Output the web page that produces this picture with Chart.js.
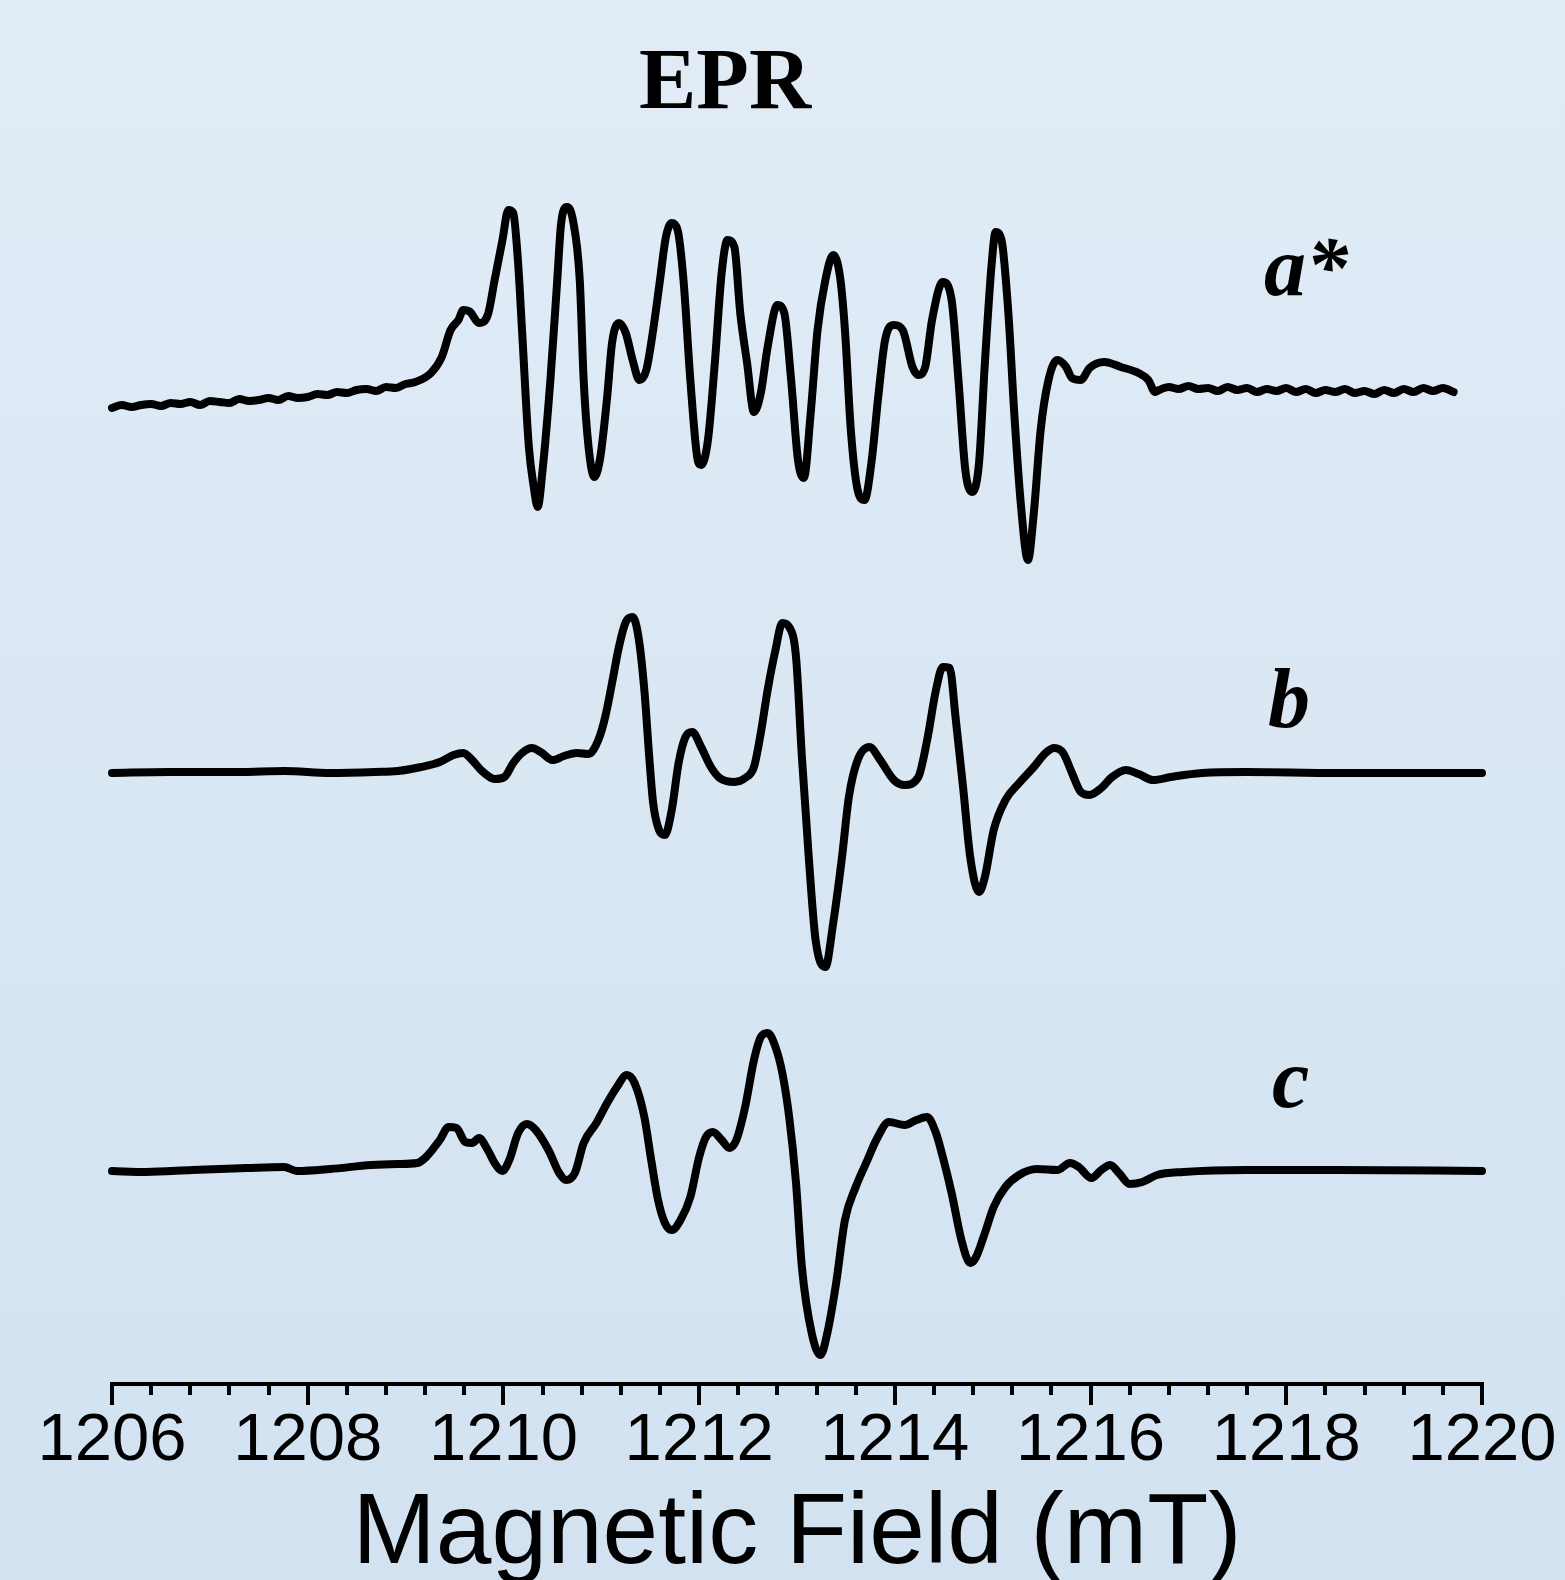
<!DOCTYPE html>
<html><head><meta charset="utf-8">
<script src="https://cdn.jsdelivr.net/npm/chart.js@4.4.0/dist/chart.umd.min.js"></script>
<style>html,body{margin:0;padding:0;background:#dae7f3;}canvas{display:block;}</style>
</head><body>
<canvas id="c" width="1565" height="1580"></canvas>
<script>
// ---- data (field in mT, signal in arbitrary units relative to each trace's baseline) ----
const fieldA = [1206.0,1206.1,1206.2,1206.3,1206.4,1206.5,1206.6,1206.7,1206.8,1206.9,1207.0,1207.1,1207.2,1207.3,1207.4,1207.5,1207.6,1207.7,1207.8,1207.9,1208.0,1208.1,1208.2,1208.3,1208.4,1208.5,1208.6,1208.7,1208.8,1208.9,1209.0,1209.1,
1209.26,1209.37,1209.46,1209.54,1209.59,1209.66,1209.75,1209.84,1209.91,1209.99,1210.05,1210.10,1210.15,1210.19,1210.26,1210.31,1210.35,1210.40,1210.48,1210.55,1210.59,1210.65,1210.71,1210.78,1210.82,1210.87,1210.93,1210.99,1211.06,1211.11,1211.18,1211.25,1211.32,1211.39,1211.46,1211.53,1211.60,1211.66,1211.72,1211.78,1211.84,1211.91,1211.98,1212.02,1212.09,1212.16,1212.23,1212.29,1212.36,1212.42,1212.49,1212.56,1212.63,1212.70,1212.80,1212.87,1212.94,1213.01,1213.07,1213.14,1213.21,1213.29,1213.37,1213.44,1213.49,1213.55,1213.62,1213.69,1213.76,1213.83,1213.90,1213.99,1214.08,1214.18,1214.24,1214.31,1214.38,1214.49,1214.58,1214.65,1214.72,1214.79,1214.86,1214.92,1214.99,1215.03,1215.09,1215.16,1215.22,1215.29,1215.36,1215.42,1215.49,1215.57,1215.66,1215.75,1215.81,1215.90,1215.99,1216.14,1216.31,1216.49,1216.59,1216.66,
1216.7,1216.8,1216.9,1217.0,1217.1,1217.2,1217.3,1217.4,1217.5,1217.6,1217.7,1217.8,1217.9,1218.0,1218.1,1218.2,1218.3,1218.4,1218.5,1218.6,1218.7,1218.8,1218.9,1219.0,1219.1,1219.2,1219.3,1219.4,1219.5,1219.6,1219.71];
const signalA = [-18,-15,-17,-15,-14,-16,-13,-14,-12,-15,-11,-12,-13,-9,-11,-10,-8,-10,-6,-8,-7,-4,-5,-2,-3,0,1,-1,3,2,6,8,
17,33,60,70,80,78,67,75,110,150,180,177,127,60,-57,-97,-117,-80,10,110,167,183,170,110,10,-57,-87,-67,-7,47,67,57,30,10,20,60,110,153,167,160,110,10,-67,-75,-50,27,117,150,143,77,27,-22,-3,43,85,77,10,-70,-88,-23,60,110,135,113,60,-40,-100,-110,-73,-7,50,65,60,23,15,23,70,108,90,10,-80,-102,-73,27,127,158,150,77,-23,-117,-170,-123,-40,10,30,23,12,10,22,28,23,17,10,-2,
0,3,1,4,1,2,-1,3,0,2,-2,1,-1,2,-2,1,-3,0,-2,1,-3,-1,-4,0,-3,1,-2,2,-1,2,-2];

const fieldB = [1206.00,1206.58,1207.29,1207.76,1208.23,1208.69,1208.92,1209.16,1209.35,1209.49,1209.59,1209.68,1209.77,1209.91,1210.01,1210.10,1210.19,1210.29,1210.38,1210.50,1210.62,1210.75,1210.87,1210.97,1211.04,1211.11,1211.18,1211.25,1211.32,1211.38,1211.44,1211.49,1211.53,1211.59,1211.65,1211.72,1211.79,1211.86,1211.93,1212.02,1212.12,1212.21,1212.36,1212.47,1212.56,1212.63,1212.70,1212.78,1212.85,1212.92,1212.99,1213.05,1213.12,1213.19,1213.29,1213.37,1213.46,1213.53,1213.62,1213.74,1213.85,1213.99,1214.10,1214.24,1214.33,1214.42,1214.49,1214.56,1214.62,1214.70,1214.77,1214.86,1214.92,1215.01,1215.13,1215.27,1215.42,1215.54,1215.63,1215.72,1215.81,1215.90,1215.99,1216.11,1216.22,1216.36,1216.49,1216.64,1216.82,1217.14,1217.59,1218.51,1219.19,1220.00];
const signalB = [-1,0,0,1,-1,0,1,5,10,17,19,12,2,-7,-5,9,19,24,20,12,16,19,18,32,55,89,125,150,155,135,82,15,-31,-58,-63,-38,9,35,40,25,5,-6,-10,-6,5,39,82,122,149,145,115,15,-85,-168,-195,-151,-85,-25,12,25,12,-8,-13,-5,32,82,105,104,55,-18,-85,-120,-105,-58,-28,-11,5,19,24,19,-1,-20,-23,-16,-5,2,-2,-8,-5,-1,0,-1,-1,-1];

const fieldC = [1206.00,1206.35,1206.82,1207.38,1207.76,1207.89,1208.23,1208.65,1208.92,1209.12,1209.21,1209.35,1209.44,1209.52,1209.61,1209.68,1209.75,1209.84,1209.91,1209.99,1210.06,1210.15,1210.24,1210.33,1210.46,1210.57,1210.64,1210.73,1210.82,1210.95,1211.06,1211.16,1211.26,1211.34,1211.44,1211.51,1211.58,1211.65,1211.72,1211.81,1211.91,1212.00,1212.07,1212.14,1212.23,1212.31,1212.38,1212.47,1212.56,1212.63,1212.70,1212.78,1212.85,1212.92,1212.99,1213.05,1213.15,1213.24,1213.31,1213.40,1213.49,1213.60,1213.72,1213.81,1213.94,1214.10,1214.22,1214.33,1214.42,1214.49,1214.58,1214.68,1214.77,1214.83,1214.92,1215.01,1215.13,1215.27,1215.45,1215.66,1215.79,1215.88,1216.01,1216.11,1216.20,1216.29,1216.40,1216.53,1216.68,1216.95,1217.59,1218.51,1220.00];
const signalC = [-1,-2,0,2,3,-1,1,5,6,7,13,30,43,42,28,27,32,20,7,-1,10,37,46,40,20,-3,-10,-3,27,47,67,83,95,87,53,10,-30,-53,-60,-50,-27,13,33,38,30,22,30,63,110,133,137,123,97,53,-13,-97,-163,-185,-163,-113,-50,-17,10,30,48,45,50,53,37,13,-23,-70,-93,-87,-63,-37,-17,-5,1,0,7,3,-8,0,5,-3,-14,-12,-5,-2,0,0,-1];

const traceNames = ['a*', 'b', 'c'];
const traceOffsets = [994, 612, 214];
const xMin = 1206, xMax = 1220, majorStep = 2, minorStep = 0.4;
const chartTitle = 'EPR';
const axisTitle = 'Magnetic Field (mT)';

function toPoints(fields, signals, offset) {
  return fields.map((f, i) => ({ x: f, y: signals[i] + offset }));
}

const bgPlugin = {
  id: 'bg',
  beforeDraw(chart) {
    const ctx = chart.ctx;
    const g = ctx.createLinearGradient(0, 0, 0, chart.height);
    g.addColorStop(0, 'rgb(225,236,246)');
    g.addColorStop(1, 'rgb(210,226,241)');
    ctx.save();
    ctx.fillStyle = g;
    ctx.fillRect(0, 0, chart.width, chart.height);
    ctx.restore();
  }
};

const decoPlugin = {
  id: 'deco',
  afterDraw(chart) {
    const ctx = chart.ctx;
    const xs = chart.scales.x;
    const area = chart.chartArea;
    ctx.save();
    // minor ticks
    ctx.strokeStyle = '#000';
    ctx.lineWidth = 4;
    const n = Math.round((xMax - xMin) / minorStep);
    const per = Math.round(majorStep / minorStep);
    for (let i = 0; i <= n; i++) {
      if (i % per === 0) continue;
      const px = Math.round(xs.getPixelForValue(xMin + i * minorStep));
      ctx.beginPath();
      ctx.moveTo(px, area.bottom);
      ctx.lineTo(px, area.bottom + 11);
      ctx.stroke();
    }
    // texts
    ctx.fillStyle = '#000';
    ctx.textBaseline = 'alphabetic';
    ctx.textAlign = 'center';
    ctx.font = 'bold 86px "Liberation Serif", "DejaVu Serif", serif';
    ctx.fillText(chartTitle, 725, 108);
    ctx.font = 'italic bold 84px "Liberation Serif", "DejaVu Serif", serif';
    ctx.textAlign = 'left';
    ctx.fillText(traceNames[0], 1264, 295);
    ctx.fillText(traceNames[1], 1268, 727);
    ctx.fillText(traceNames[2], 1272, 1107);
    ctx.textAlign = 'center';
    ctx.font = '100px "Liberation Sans", Arial, sans-serif';
    ctx.fillText(axisTitle, (area.left + area.right) / 2, 1563);
    ctx.restore();
  }
};

const ds = (fields, signals, offset) => ({
  data: toPoints(fields, signals, offset),
  borderColor: '#000',
  borderWidth: 8,
  pointRadius: 0,
  fill: false,
  cubicInterpolationMode: 'monotone',
  borderJoinStyle: 'round',
  borderCapStyle: 'round',
  clip: false
});

new Chart(document.getElementById('c'), {
  type: 'line',
  data: {
    datasets: [
      ds(fieldA, signalA, traceOffsets[0]),
      ds(fieldB, signalB, traceOffsets[1]),
      ds(fieldC, signalC, traceOffsets[2])
    ]
  },
  options: {
    responsive: false,
    animation: false,
    events: [],
    layout: { padding: { left: 112, right: 83, top: 150, bottom: 0 } },
    plugins: { legend: { display: false }, tooltip: { enabled: false }, title: { display: false } },
    scales: {
      x: {
        type: 'linear',
        min: xMin, max: xMax,
        afterFit(scale) { scale.height = 196; },
        border: { display: true, color: '#000', width: 4 },
        grid: { display: true, drawOnChartArea: false, drawTicks: true, tickLength: 21, lineWidth: 4, color: '#000' },
        ticks: {
          stepSize: majorStep,
          color: '#000',
          padding: 3,
          maxRotation: 0,
          autoSkip: false,
          font: { family: '"Liberation Sans", Arial, sans-serif', size: 67, lineHeight: 1.0 },
          callback: (v) => String(v)
        }
      },
      y: { display: false, min: 0, max: 1234 }
    }
  },
  plugins: [bgPlugin, decoPlugin]
});
</script>
</body></html>
